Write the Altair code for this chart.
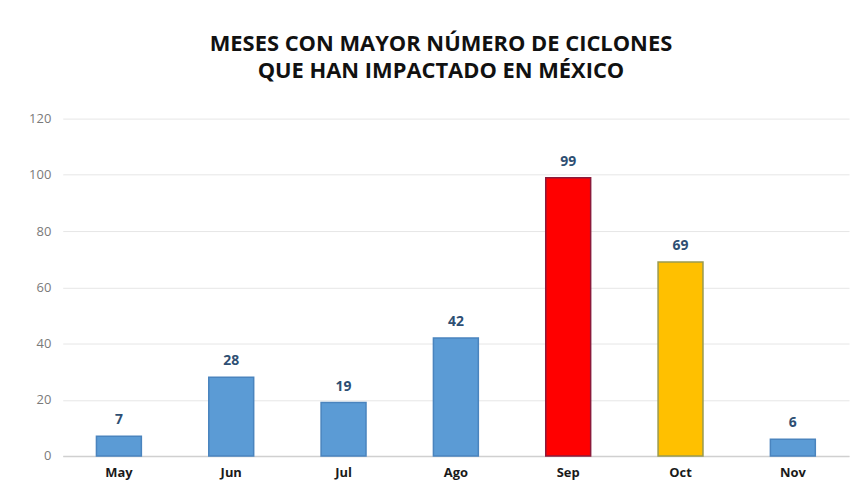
import altair as alt
import pandas as pd

months = ["May", "Jun", "Jul", "Ago", "Sep", "Oct", "Nov"]
counts = [7, 28, 19, 42, 99, 69, 6]
fills = ["#5B9BD5", "#5B9BD5", "#5B9BD5", "#5B9BD5", "#FF0000", "#FFC000", "#5B9BD5"]
strokes = ["#4A84BE", "#4A84BE", "#4A84BE", "#4A84BE", "#8B1A3A", "#9A9A50", "#4A84BE"]

df = pd.DataFrame({"mes": months, "n": counts, "fill": fills, "stroke": strokes})

x = alt.X("mes:N", sort=months, title=None,
          scale=alt.Scale(paddingInner=0.6, paddingOuter=0.3),
          axis=alt.Axis(labelAngle=0, labelFont="Open Sans", labelFontWeight="bold",
                        labelFontSize=13, labelColor="#1a1a1a", labelPadding=11,
                        ticks=False, domainColor="#D0D0D0", domainWidth=1.5))
y = alt.Y("n:Q", title=None,
          scale=alt.Scale(domain=[0, 120]),
          axis=alt.Axis(values=[0, 20, 40, 60, 80, 100, 120], labelFont="Open Sans",
                        labelFontSize=13, labelColor="#7A7A7A", labelPadding=12,
                        ticks=False, domain=False, gridColor="#E6E6E6", gridWidth=1))

bars = alt.Chart(df).mark_bar(strokeWidth=1.5).encode(
    x=x, y=y,
    fill=alt.Fill("fill:N", scale=None),
    stroke=alt.Stroke("stroke:N", scale=None),
)

labels = alt.Chart(df).mark_text(dy=-16, font="Open Sans", fontWeight="bold",
                                 fontSize=14, color="#2E4F73").encode(
    x=alt.X("mes:N", sort=months), y=alt.Y("n:Q"), text="n:Q")

chart = (bars + labels).properties(
    width=790, height=339,
    padding={"left": 55, "top": 110, "right": 2, "bottom": 30},
    autosize=alt.AutoSizeParams(type="none"),
    title=alt.TitleParams(
        ["MESES CON MAYOR NÚMERO DE CICLONES", "QUE HAN IMPACTADO EN MÉXICO"],
        font="Open Sans", fontSize=22, fontWeight="bold", color="#111111",
        anchor="middle", dx=-15, offset=30, lineHeight=27),
).configure_view(stroke=None)

chart.save("out.html", embed_options={"renderer": "svg", "actions": False})
